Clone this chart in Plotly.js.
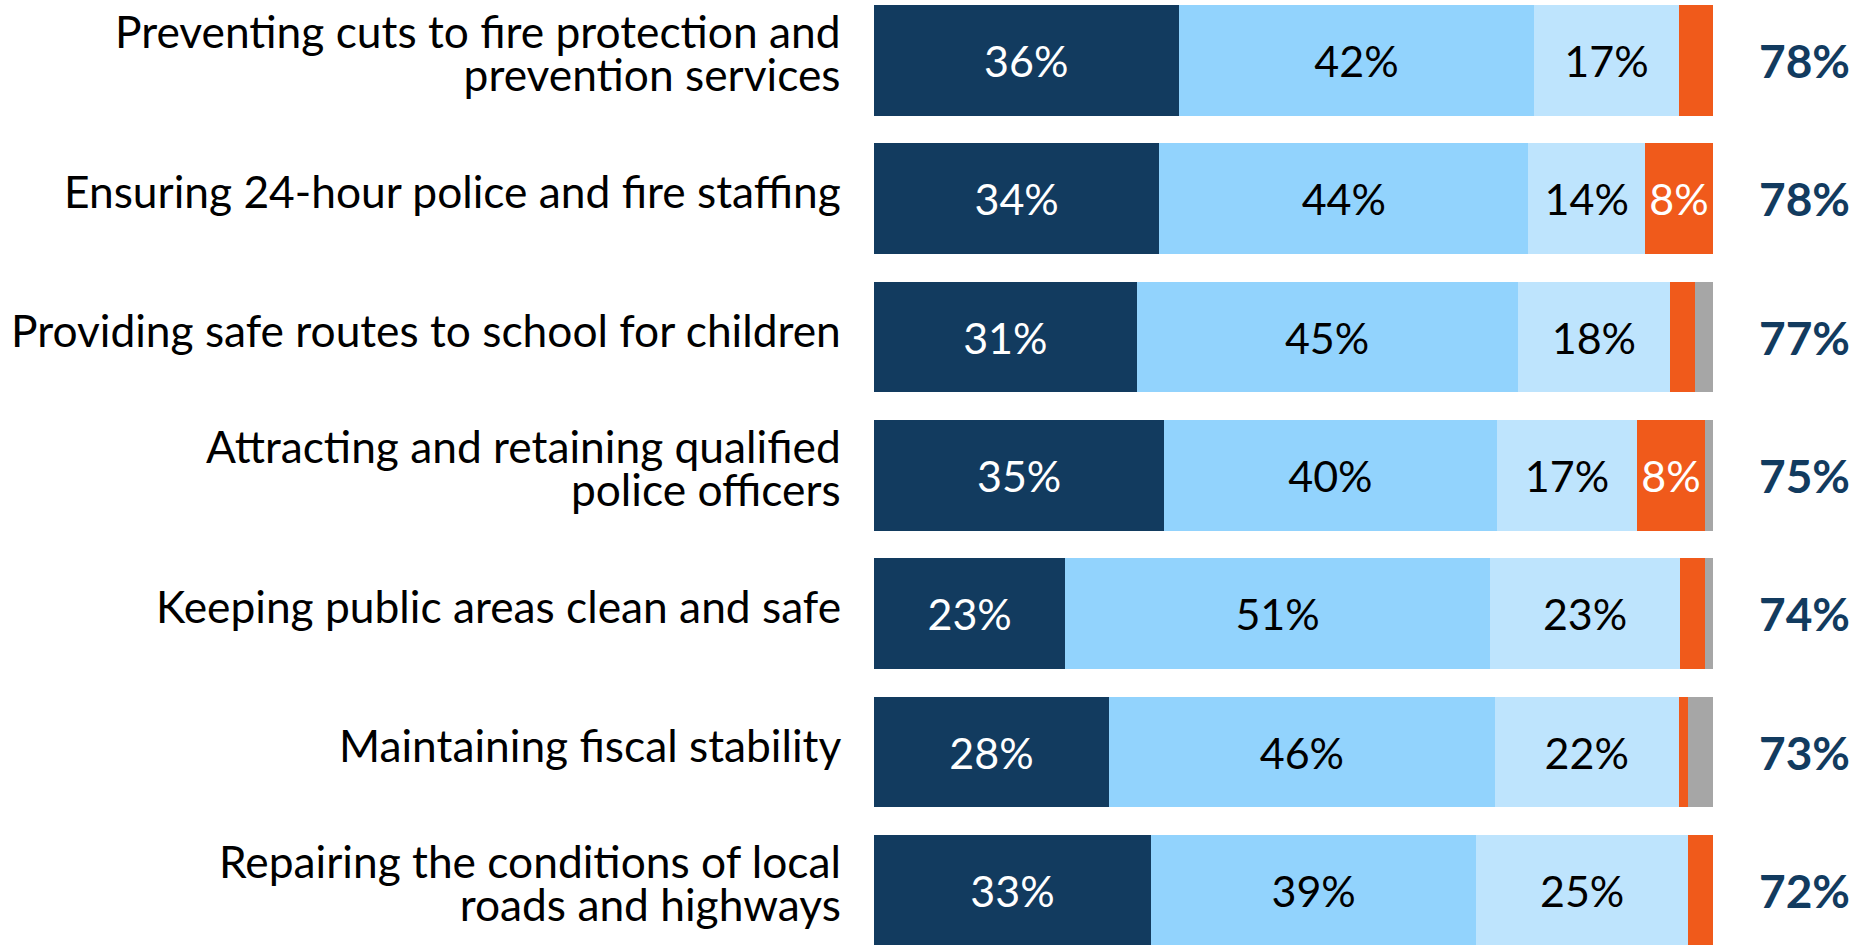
<!DOCTYPE html>
<html><head><meta charset="utf-8">
<script src="https://cdn.plot.ly/plotly-3.0.1.min.js"></script>
<style>html,body{margin:0;padding:0;background:#fff;overflow:hidden}#chart{width:1870px;height:945px}</style>
</head><body><div id="chart"></div>
<script>
// ---- data ----
const categories = [
  "Preventing cuts to fire protection and<br>prevention services",
  "Ensuring 24-hour police and fire staffing",
  "Providing safe routes to school for children",
  "Attracting and retaining qualified<br>police officers",
  "Keeping public areas clean and safe",
  "Maintaining fiscal stability",
  "Repairing the conditions of local<br>roads and highways"
];
const seriesNames = ["Extremely important", "Very important", "Somewhat important", "Not important", "Don't know"];
const extremelyImportant = [36.3, 34.0, 31.3, 34.6, 22.8, 28.0, 33.0];
const veryImportant      = [42.4, 44.0, 45.4, 39.6, 50.6, 46.0, 38.8];
const somewhatImportant  = [17.2, 13.9, 18.2, 16.8, 22.7, 21.9, 25.2];
const notImportant       = [4.1, 8.1, 3.0, 8.0, 3.0, 1.1, 3.0];
const dontKnow           = [0, 0, 2.1, 1.0, 0.9, 3.0, 0];
const totalImportant     = [78, 78, 77, 75, 74, 73, 72];

// ---- styles ----
const colors = ["#123B5F", "#92D3FD", "#BEE4FD", "#F05A1B", "#A6A6A6"];
const textColors = ["#FFFFFF", "#000000", "#000000", "#FFFFFF", "#000000"];
const FONT = "Lato, 'Open Sans', sans-serif";
const LABEL_SIZE = 44.3;
const BAR_TEXT_SIZE = 43;
const LINE_GAP = 43;
const series = [extremelyImportant, veryImportant, somewhatImportant, notImportant, dontKnow];

const traces = series.map((vals, i) => ({
  type: "bar",
  orientation: "h",
  name: seriesNames[i],
  y: categories,
  x: vals,
  marker: {color: colors[i], line: {width: 0}},
  text: vals.map(v => v >= 5 ? Math.round(v) + "%" : ""),
  textposition: "inside",
  insidetextanchor: "middle",
  textangle: 0,
  constraintext: "none",
  textfont: {family: FONT, size: BAR_TEXT_SIZE, color: textColors[i]},
  hoverinfo: "skip"
}));

const annotations = [];
categories.forEach((c, ci) => {
  const nLines = c.split("<br>").length;
  annotations.push({
    xref: "paper", yref: "y", x: 0, y: c,
    xanchor: "right", yanchor: "middle", align: "right",
    xshift: -31,
    yshift: 8 - (nLines - 1) * (LABEL_SIZE * 1.3 - LINE_GAP) / 2,
    text: c, showarrow: false,
    font: {family: FONT, size: LABEL_SIZE, color: "#000000"}
  });
  annotations.push({
    xref: "paper", yref: "y", x: 1.1085, y: c,
    xanchor: "center", yanchor: "middle",
    text: totalImportant[ci] + "%", showarrow: false,
    font: {family: FONT, size: 46, color: "#123B5F", weight: "bold"}
  });
});

const layout = {
  width: 1870, height: 945,
  margin: {l: 874, r: 157, t: 0, b: 0, pad: 0},
  paper_bgcolor: "#FFFFFF", plot_bgcolor: "#FFFFFF",
  barmode: "stack",
  bargap: 0.2,
  showlegend: false,
  uniformtext: {mode: "show", minsize: BAR_TEXT_SIZE},
  xaxis: {range: [0, 100], visible: false, fixedrange: true},
  yaxis: {type: "category", range: [6.394, -0.437], showticklabels: false,
          showgrid: false, zeroline: false, showline: false, ticks: "", fixedrange: true},
  annotations: annotations,
  font: {family: FONT}
};

Plotly.newPlot("chart", traces, layout, {staticPlot: true, displayModeBar: false}).then(gd => {
  // tighten line spacing of multi-line labels to match the reference
  gd.querySelectorAll(".annotation-text").forEach(t => {
    const lines = t.querySelectorAll("tspan.line");
    lines.forEach((ln, i) => ln.setAttribute("dy", (i * LINE_GAP) + "px"));
  });
});
</script>
</body></html>
